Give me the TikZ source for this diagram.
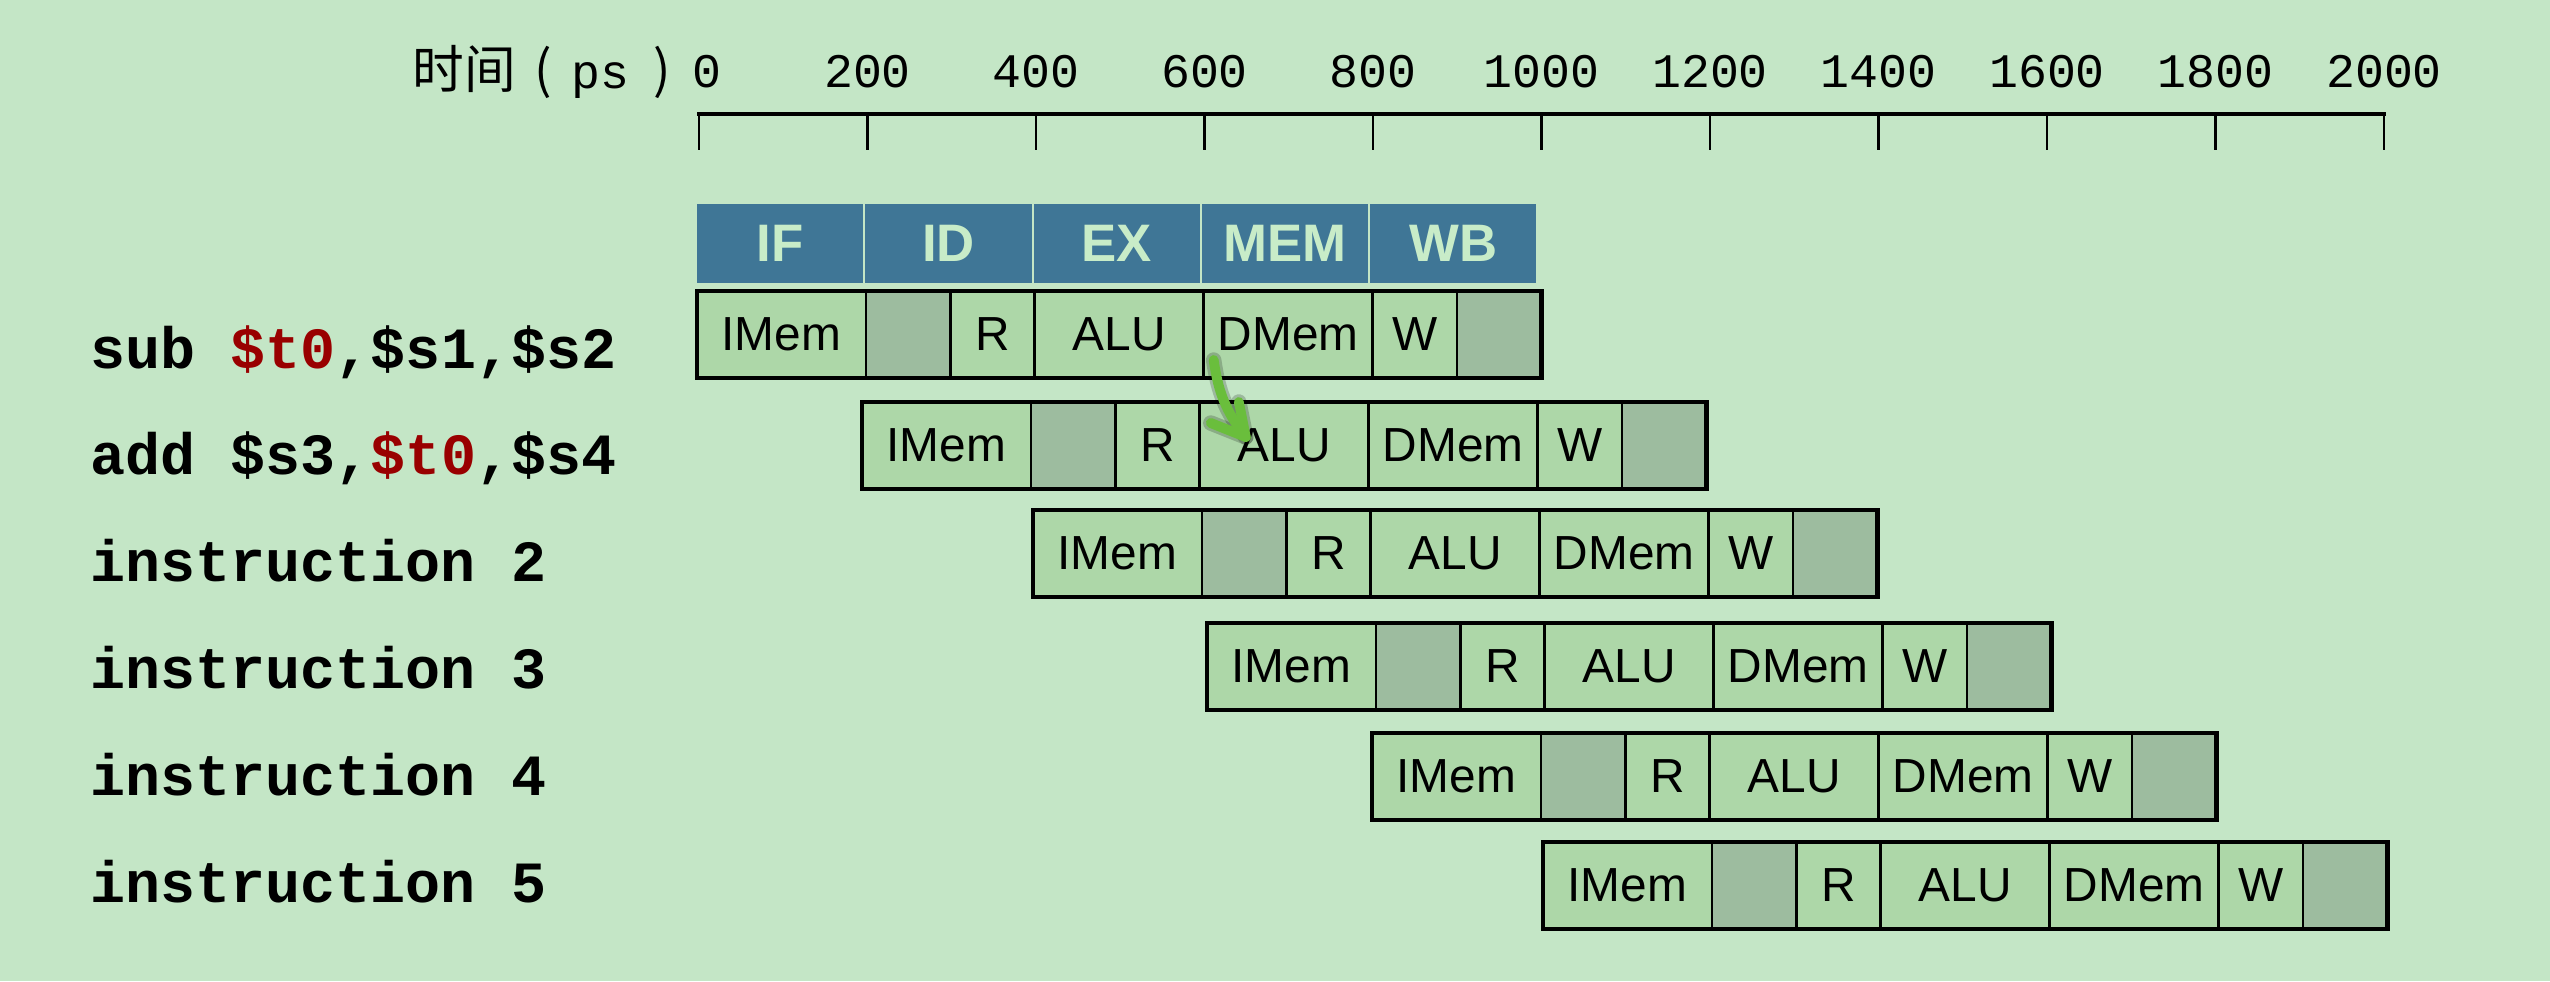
\documentclass[tikz,border=0pt]{standalone}
\usepackage{fontspec}
\setmainfont{Liberation Sans}
\newfontfamily\cjk{Noto Sans CJK SC}
\newfontfamily\mono{Liberation Mono}
\usetikzlibrary{arrows.meta}
\definecolor{bg}{RGB}{196,230,198}
\definecolor{cellg}{RGB}{173,215,168}
\definecolor{cellgray}{RGB}{157,188,159}
\definecolor{hdr}{RGB}{63,118,150}
\definecolor{hdrtxt}{RGB}{200,236,200}
\definecolor{regred}{RGB}{153,0,0}
\definecolor{fwd}{RGB}{106,190,60}
\tikzset{
  cellbase/.style={draw=black, line width=0.75pt, inner sep=0pt, outer sep=0pt,
    minimum height=0.87cm, anchor=north west, font=\fontsize{13.6}{16}\selectfont},
  cellbox/.style={cellbase, fill=cellg},
  graybox/.style={cellbase, fill=cellgray},
  wide/.style={minimum width=1.688cm},
  narrow/.style={minimum width=0.844cm},
  rowframe/.style={draw=black, line width=1.2pt},
  hdrbox/.style={draw=bg, line width=0.6pt, fill=hdr, text=hdrtxt, inner sep=0pt, outer sep=0pt,
    minimum height=0.81cm, minimum width=1.682cm, anchor=north west,
    font=\fontsize{15}{18}\selectfont\bfseries},
  ticklabel/.style={inner sep=0pt, anchor=base, font=\mono\fontsize{13.7}{16}\selectfont},
  cjklab/.style={inner sep=0pt, font=\cjk\fontsize{14.7}{17}\selectfont},
  monolab/.style={inner sep=0pt, anchor=base west, font=\mono\fontsize{13.7}{16}\selectfont},
  instr/.style={inner sep=0pt, anchor=base west, font=\mono\bfseries\fontsize{16.6}{20}\selectfont},
  axisline/.style={line width=1.2pt, line cap=rect},
  tickline/.style={line width=0.75pt},
  fwdarrow/.style={draw=fwd, line width=2.8pt, line cap=round, line join=round},
  fwdshadow/.style={draw=black, line width=4.4pt, opacity=0.2, line cap=round, line join=round}
}
\newcommand{\piperow}[3]{%
  \node[cellbox, wide] (#3imem) at (#1,#2) {IMem};
  \node[graybox, narrow] (#3ga) at (#3imem.north east) {};
  \node[cellbox, narrow] (#3r) at (#3ga.north east) {R};
  \node[cellbox, wide] (#3alu) at (#3r.north east) {ALU};
  \node[cellbox, wide] (#3dmem) at (#3alu.north east) {DMem};
  \node[cellbox, narrow] (#3w) at (#3dmem.north east) {W};
  \node[graybox, narrow] (#3gb) at (#3w.north east) {};
  \draw[rowframe] (#3imem.north west) rectangle (#3gb.south east);
}
\begin{document}
\begin{tikzpicture}[x=0.01cm, y=-0.01cm]
\useasboundingbox[fill=bg] (0,0) rectangle (2550,981);

% time label
\node[cjklab, anchor=base west] (tl1) at (412,88) {时间};
\node[cjklab, anchor=base] (tl2) at (543,88) {(};
\node[monolab] (tl3) at (571,88) {ps};
\node[cjklab, anchor=base] (tl4) at (662,88) {)};

% time axis
\coordinate (axL) at (699,114);
\coordinate (axR) at (2384,114);
\draw[axisline] (axL) -- (axR);
\foreach \i in {0,...,10} {
  \draw[tickline] (699+\i*168.5,114) -- (699+\i*168.5,150);
}
\node[ticklabel] (t0) at (707,87) {0};
\foreach \i/\v in {1/200,2/400,3/600,4/800,5/1000,6/1200,7/1400,8/1600,9/1800,10/2000} {
  \node[ticklabel] (t\i) at (699+\i*168.5,87) {\v};
}

% stage header
\node[hdrbox] (hif) at (696,203) {IF};
\node[hdrbox] (hid) at (hif.north east) {ID};
\node[hdrbox] (hex) at (hid.north east) {EX};
\node[hdrbox] (hmem) at (hex.north east) {MEM};
\node[hdrbox] (hwb) at (hmem.north east) {WB};

% pipeline rows
\piperow{697}{291}{ra}
\piperow{862}{402}{rb}
\piperow{1033}{510}{rc}
\piperow{1207}{623}{rd}
\piperow{1372}{733}{re}
\piperow{1543}{842}{rf}

% instruction labels
\node[instr] (ia) at (90,368) {sub \textcolor{regred}{\$t0},\$s1,\$s2};
\node[instr] (ib) at (90,474) {add \$s3,\textcolor{regred}{\$t0},\$s4};
\node[instr] (ic) at (90,581) {instruction 2};
\node[instr] (id) at (90,688) {instruction 3};
\node[instr] (ie) at (90,795) {instruction 4};
\node[instr] (if) at (90,902) {instruction 5};

% forwarding arrow (with soft shadow)
\coordinate (fs) at ([xshift=0.10cm,yshift=0.18cm]radmem.south west);
\coordinate (fe) at ([xshift=0.46cm,yshift=-0.35cm]rbalu.north west);
\coordinate (fb1) at ([xshift=-0.35cm,yshift=0.14cm]fe);
\coordinate (fb2) at ([xshift=-0.07cm,yshift=0.35cm]fe);
\begin{scope}[xshift=-0.03cm, yshift=-0.04cm]
  \draw[fwdshadow] (fs) to[out=-82,in=128] (fe);
  \draw[fwdshadow] (fb1) -- (fe) -- (fb2);
\end{scope}
\draw[fwdarrow] (fs) to[out=-82,in=128] (fe);
\draw[fwdarrow] (fb1) -- (fe) -- (fb2);
\end{tikzpicture}
\end{document}
